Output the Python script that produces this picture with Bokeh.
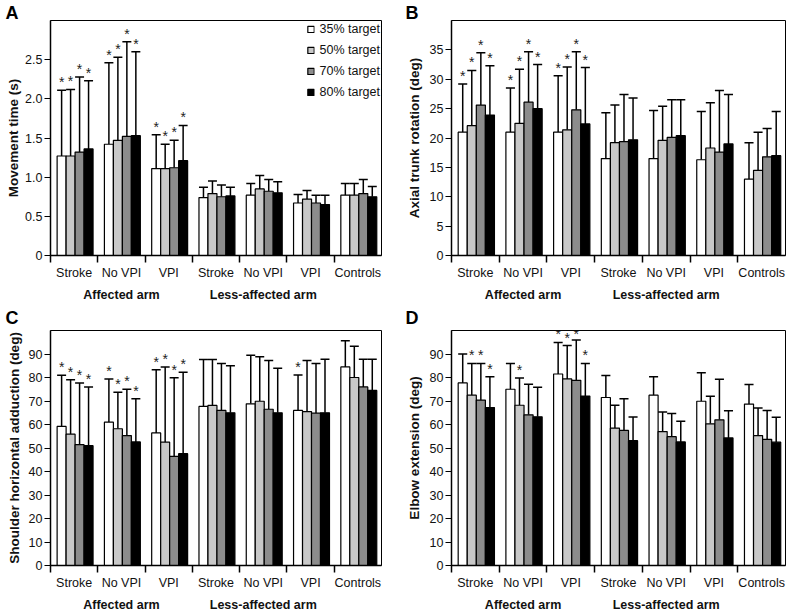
from bokeh.plotting import figure
from bokeh.models import (ColumnDataSource, FixedTicker, LinearAxis, Range1d,
                          Label, Legend, LegendItem)
from bokeh.layouts import row, column
from bokeh.embed import file_html
from bokeh.resources import INLINE
from bokeh.core.properties import value

# ---------------- data ----------------
groups = ["Stroke", "No VPI", "VPI", "Stroke", "No VPI", "VPI", "Controls"]
arm_labels = ["Affected arm", "Less-affected arm"]
targets = ["35% target", "50% target", "70% target", "80% target"]

# Panel A: movement time (s); rows = groups, cols = targets
A_mean = [[1.27, 1.27, 1.32, 1.36],
          [1.42, 1.47, 1.52, 1.53],
          [1.11, 1.11, 1.12, 1.21],
          [0.74, 0.79, 0.75, 0.76],
          [0.77, 0.85, 0.82, 0.80],
          [0.67, 0.72, 0.67, 0.65],
          [0.77, 0.77, 0.79, 0.75]]
A_upper = [[2.11, 2.12, 2.28, 2.23],
           [2.46, 2.53, 2.73, 2.60],
           [1.54, 1.42, 1.47, 1.66],
           [0.87, 0.95, 0.90, 0.87],
           [0.92, 1.02, 0.97, 0.94],
           [0.78, 0.83, 0.77, 0.77],
           [0.92, 0.92, 0.97, 0.88]]
A_sig = [[1, 1, 1, 1], [1, 1, 1, 1], [1, 1, 1, 1],
         [0, 0, 0, 0], [0, 0, 0, 0], [0, 0, 0, 0], [0, 0, 0, 0]]

# Panel B: axial trunk rotation (deg)
B_mean = [[21.0, 22.1, 25.6, 23.9],
          [21.0, 22.5, 26.1, 25.0],
          [21.0, 21.4, 24.8, 22.4],
          [16.5, 19.2, 19.4, 19.7],
          [16.5, 19.6, 20.1, 20.4],
          [16.3, 18.3, 17.6, 19.0],
          [13.0, 14.5, 16.8, 17.0]]
B_upper = [[29.2, 31.5, 34.5, 32.3],
           [28.5, 31.7, 34.7, 32.5],
           [30.6, 32.1, 34.7, 32.0],
           [24.3, 25.6, 27.4, 26.8],
           [24.7, 25.4, 26.5, 26.5],
           [24.5, 26.0, 28.1, 27.4],
           [19.2, 21.0, 21.6, 24.5]]
B_sig = [[1, 1, 1, 1], [1, 1, 1, 1], [1, 1, 1, 1],
         [0, 0, 0, 0], [0, 0, 0, 0], [0, 0, 0, 0], [0, 0, 0, 0]]

# Panel C: shoulder horizontal adduction (deg)
C_mean = [[59.2, 55.9, 51.4, 51.0],
          [61.0, 58.2, 55.3, 52.6],
          [56.4, 52.5, 46.4, 47.6],
          [67.7, 68.1, 66.0, 65.0],
          [68.8, 69.9, 66.5, 65.0],
          [66.0, 65.5, 64.8, 65.0],
          [84.5, 80.0, 76.0, 74.5]]
C_upper = [[81.0, 79.0, 77.7, 76.0],
           [79.4, 73.7, 75.0, 71.0],
           [83.3, 84.5, 79.9, 82.2],
           [87.7, 87.7, 86.0, 85.0],
           [89.5, 88.8, 87.2, 83.9],
           [81.1, 87.2, 86.0, 87.8],
           [95.6, 93.3, 87.8, 87.8]]
C_sig = [[1, 1, 1, 1], [1, 1, 1, 1], [1, 1, 1, 1],
         [0, 0, 0, 0], [0, 0, 0, 0], [1, 0, 0, 0], [0, 0, 0, 0]]

# Panel D: elbow extension (deg)
D_mean = [[77.7, 72.5, 70.4, 67.2],
          [75.0, 68.2, 64.1, 63.3],
          [81.5, 79.4, 78.8, 72.1],
          [71.5, 58.5, 57.5, 53.1],
          [72.5, 57.0, 54.8, 52.6],
          [69.9, 60.3, 62.0, 54.3],
          [68.7, 55.3, 53.7, 52.5]]
D_upper = [[90.0, 86.0, 86.0, 80.3],
           [86.0, 79.8, 77.1, 75.9],
           [94.9, 93.6, 96.0, 86.0],
           [80.9, 68.2, 71.0, 63.2],
           [80.3, 65.3, 64.7, 61.4],
           [82.0, 72.0, 79.3, 65.9],
           [77.0, 67.0, 66.0, 63.1]]
D_sig = [[0, 1, 1, 1], [0, 1, 0, 0], [1, 1, 1, 1],
         [0, 0, 0, 0], [0, 0, 0, 0], [0, 0, 0, 0], [0, 0, 0, 0]]

A_ticks = [0, 0.5, 1.0, 1.5, 2.0, 2.5]
A_tick_labels = ["0", "0.5", "1.0", "1.5", "2.0", "2.5"]
B_ticks = [0, 5, 10, 15, 20, 25, 30, 35]
CD_ticks = [0, 10, 20, 30, 40, 50, 60, 70, 80, 90]

# ---------------- style ----------------
FONT = "Liberation Sans"
COLORS = ["#ffffff", "#c8c8c8", "#8c8c8c", "#000000"]
BAR_W = 0.19
OFFSET = 0.52
TXT = "#111111"
FRAME_H = 236.0


def make_panel(letter, ylabel, means, uppers, sig, ymax, yticks, ylabels,
               width, height, bl, br, bt, bb, letter_dx, letter_dy,
               ylab_standoff, legend=False):
    p = figure(width=width, height=height, x_range=Range1d(0, 7),
               y_range=Range1d(0, ymax), output_backend="svg",
               toolbar_location=None, min_border_left=bl, min_border_right=br,
               min_border_top=bt, min_border_bottom=bb)
    p.xgrid.visible = False
    p.ygrid.visible = False
    p.outline_line_color = "black"
    p.outline_line_width = 1
    p.outline_line_alpha = 1

    px = ymax / FRAME_H  # data units per pixel (approx.)
    bars = []
    ast_x, ast_y = [], []
    for k in range(4):
        xs = [g + OFFSET + (k - 1.5) * BAR_W for g in range(7)]
        tops = [means[g][k] for g in range(7)]
        ups = [uppers[g][k] for g in range(7)]
        src = ColumnDataSource(dict(x=xs, top=tops, up=ups,
                                    x0=[x - BAR_W / 2 for x in xs],
                                    x1=[x + BAR_W / 2 for x in xs]))
        p.segment(x0="x", y0="top", x1="x", y1="up", line_color="black",
                  line_width=1.5, source=src)
        p.segment(x0="x0", y0="up", x1="x1", y1="up", line_color="black",
                  line_width=1.5, source=src)
        r = p.vbar(x="x", top="top", bottom=0, width=BAR_W,
                   fill_color=COLORS[k], line_color="black", line_width=1.2,
                   source=src)
        bars.append(r)
        for g in range(7):
            if sig[g][k]:
                ast_x.append(xs[g])
                # keep the star inside the frame when the whisker is near the top
                ast_y.append(min(ups[g], ymax - 12 * px))
    p.text(x=ast_x, y=ast_y, text=["*"] * len(ast_x), text_align="center",
           text_baseline="alphabetic", text_font_size="14px",
           text_font=value(FONT), text_color="#222222", y_offset=-8)

    # x axis: group names, boundary ticks
    xa = p.xaxis[0]
    xa.ticker = FixedTicker(ticks=[g + 0.5 for g in range(7)],
                            minor_ticks=list(range(0, 7)))
    xa.major_label_overrides = {g + 0.5: groups[g] for g in range(7)}
    xa.major_tick_line_color = None
    xa.major_tick_out = 0
    xa.major_tick_in = 0
    xa.minor_tick_line_color = "black"
    xa.minor_tick_line_width = 1.5
    xa.minor_tick_out = 7
    xa.minor_tick_in = 0
    xa.axis_line_width = 1.5
    xa.major_label_standoff = 3
    xa.major_label_text_font = FONT
    xa.major_label_text_font_size = "12.5px"
    xa.major_label_text_color = TXT

    ax2 = LinearAxis(ticker=FixedTicker(ticks=[1.5, 4.5], minor_ticks=[]),
                     major_label_overrides={1.5: arm_labels[0], 4.5: arm_labels[1]},
                     axis_line_color=None, major_tick_line_color=None,
                     major_tick_out=0, major_tick_in=0, minor_tick_out=0,
                     minor_tick_in=0,
                     minor_tick_line_color=None, major_label_standoff=5,
                     major_label_text_font=FONT,
                     major_label_text_font_size="12.5px",
                     major_label_text_font_style="bold",
                     major_label_text_color=TXT)
    p.add_layout(ax2, "below")

    ya = p.yaxis[0]
    ya.ticker = FixedTicker(ticks=yticks)
    ya.major_label_overrides = {t: l for t, l in zip(yticks, ylabels)}
    ya.minor_tick_line_color = None
    ya.major_tick_out = 6
    ya.major_tick_in = 0
    ya.major_tick_line_width = 1.2
    ya.axis_line_width = 1.5
    ya.major_label_standoff = 2
    ya.major_label_text_font = FONT
    ya.major_label_text_font_size = "12.5px"
    ya.major_label_text_color = TXT
    ya.axis_label = ylabel
    ya.axis_label_standoff = ylab_standoff
    ya.axis_label_text_font = FONT
    ya.axis_label_text_font_size = "13.5px"
    ya.axis_label_text_font_style = "bold"
    ya.axis_label_text_color = TXT

    p.add_layout(Label(x=letter_dx, y=letter_dy, x_units="screen",
                       y_units="screen", text=letter, text_font=FONT,
                       text_font_size="18px", text_font_style="bold",
                       text_baseline="alphabetic", text_color="black"),
                 "above")

    if legend:
        lg = Legend(items=[LegendItem(label=targets[k], renderers=[bars[k]])
                           for k in range(4)],
                    location="top_right", border_line_color=None,
                    background_fill_alpha=0, padding=7, margin=1, spacing=6,
                    glyph_width=8, glyph_height=8, label_standoff=5,
                    label_height=15, label_text_font=FONT,
                    label_text_font_size="12.5px", label_text_color=TXT)
        p.add_layout(lg, "center")
    return p


W1, W2 = 397, 389
H1, H2 = 304, 310

pA = make_panel("A", "Movement time (s)", A_mean, A_upper, A_sig, 3.0,
                A_ticks, A_tick_labels, W1, H1, 50, 16, 20, 48, -45, 8, 1,
                legend=True)
pB = make_panel("B", "Axial trunk rotation (deg)", B_mean, B_upper, B_sig, 40,
                B_ticks, [str(t) for t in B_ticks], W2, H1, 54, 1, 20, 48,
                -46, 8, 5)
pC = make_panel("C", "Shoulder horizontal adduction (deg)", C_mean, C_upper,
                C_sig, 100, CD_ticks, [str(t) for t in CD_ticks], W1, H2,
                50, 16, 26, 48, -45, 13, 4)
pD = make_panel("D", "Elbow extension (deg)", D_mean, D_upper, D_sig, 100,
                CD_ticks, [str(t) for t in CD_ticks], W2, H2, 54, 1, 26, 48,
                -46, 13, 5)

layout = column(row(pA, pB), row(pC, pD))
open("out.html", "w").write(file_html(layout, INLINE))
